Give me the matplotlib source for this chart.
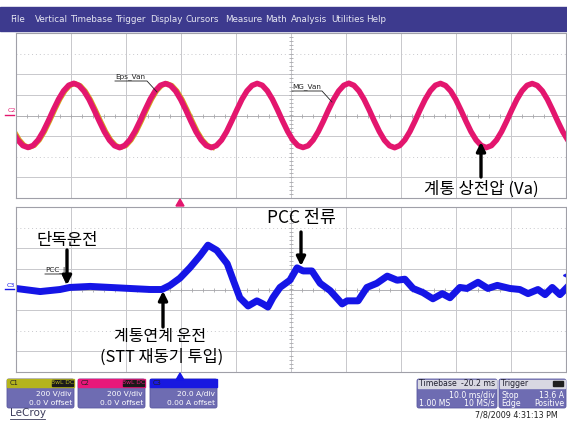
import matplotlib.pyplot as plt
import numpy as np
from matplotlib.patches import FancyBboxPatch, Rectangle, Polygon

W, H = 567, 421
KR = ['Noto Sans CJK KR', 'DejaVu Sans']

# C2 (MG_Van) phase voltage [V], one sample every DT_V ms from T0_V
DT_V = 16.667 / 18
T0_V = -0.6
mg_van = [
    -156, -238, -292,
    -310, -291, -237, -154, -52, 56, 157, 239, 293, 312, 291, 236, 155, 52, -55, -157, -239, -293,
    -312, -290, -236, -155, -53, 55, 158, 240, 292, 310, 290, 237, 154, 53, -56, -158, -237, -291,
    -311, -292, -239, -157, -54, 53, 156, 238, 291, 311, 293, 239, 157, 55, -53, -155, -238, -292,
    -310, -293, -238, -156, -55, 54, 155, 237, 292, 313, 292, 238, 156, 54, -54, -156, -240, -293,
    -312, -291, -237, -155, -53, 56, 157, 239, 293, 311, 290, 237, 155, 53, -55, -157, -238, -291,
    -311, -292, -238, -156, -54, 54, 156, 238, 292, 310, 291, 238, 156, 54, -54, -156, -238, -292,
]

# C1 (Eps_Van) lags slightly during the first cycles
T0_EPS = -0.35
eps_van = [
    -150, -234, -290,
    -309, -290, -236, -153, -51, 57, 158, 239, 292, 310, 290, 236, 154, 52, -55, -157, -238, -292,
    -310, -291, -237, -155, -53, 55, 157, 239, 292, 310, 291, 237, 155, 53, -55, -157, -238, -291,
    -310,
]

# C3 PCC current [A] vs time [ms]
pcc_t = [0, 4.4, 8.0, 9.8, 13.5, 17.1, 20.7, 24.4, 26.5, 28.0, 29.8, 31.6,
         33.5, 34.9, 36.5, 38.4, 39.5, 40.7, 42.2, 43.8, 44.9, 45.8, 46.7,
         48.0, 49.8, 51.1, 52.2, 53.8, 55.3, 57.1, 59.3, 60.2, 62.2, 63.8,
         65.6, 67.5, 69.3, 70.7, 72.2, 74.0, 75.8, 77.5, 78.9, 80.7, 82.0,
         84.0, 85.8, 87.5, 89.8, 91.6, 93.1, 94.9, 96.2, 97.5, 98.9, 100.0]
pcc_i = [1, -2, 0, 2, 3, 2, 1, 0, 0, 4, 11, 21,
         33, 43, 38, 25, 9, -8, -16, -11, -14, -17, -8,
         2, 9, 21, 18, 18, 6, -1, -14, -11, -11, 2,
         6, 13, 9, 10, 1, -3, -9, -4, -8, 2, 1,
         7, 1, 4, 1, 0, -4, 0, -5, 2, -5, 1]

menu_items = ['File', 'Vertical', 'Timebase', 'Trigger', 'Display', 'Cursors',
              'Measure', 'Math', 'Analysis', 'Utilities', 'Help']
menu_x = [10, 35, 70, 115, 150, 186, 225, 265, 291, 331, 366]

chan_names = ['C1', 'C2', 'C3']
chan_colors = ['#b4b41c', '#e8187a', '#1818e0']
chan_scale = ['200 V/div', '200 V/div', '20.0 A/div']
chan_offset = ['0.0 V offset', '0.0 V offset', '0.00 A offset']
chan_box_x = [7, 78, 150]

MAGENTA = '#e3166e'
BLUE = '#1515e6'
GRID = '#c8c8cc'

fig = plt.figure(figsize=(W / 100, H / 100), dpi=100)


def px_rect(x0, y0, x1, y1):
    return [x0 / W, 1 - y1 / H, (x1 - x0) / W, (y1 - y0) / H]


def scope_axes(rect, vdiv):
    ax = fig.add_axes(rect, zorder=1)
    ax.set_xlim(0, 100)
    ax.set_ylim(-4 * vdiv, 4 * vdiv)
    ax.set_xticks([])
    ax.set_yticks([])
    for s in ax.spines.values():
        s.set_color('#a0a0a8')
        s.set_linewidth(0.8)
    for x in range(10, 100, 10):
        ax.axvline(x, color=GRID, lw=0.7, zorder=0)
    for r in range(-3, 4):
        if r == 0:
            continue
        ls = (0, (1, 3)) if r in (3, -2) else '-'
        ax.axhline(r * vdiv, color=GRID, lw=0.7, ls=ls, zorder=0)
    ax.axhline(0, color='#b0b0b4', lw=0.7, zorder=0)
    ax.plot(np.arange(2, 100, 2), np.zeros(49), ls='none', marker='|',
            ms=3, mew=0.6, color='#a8a8ac', zorder=0)
    ax.plot(np.full(39, 50), np.arange(-3.8, 3.81, 0.2) * vdiv, ls='none',
            marker='_', ms=3, mew=0.6, color='#a8a8ac', zorder=0)
    return ax


# background, menu bar and status boxes
bg = fig.add_axes([0, 0, 1, 1], zorder=0)
bg.set_xlim(0, W)
bg.set_ylim(H, 0)
bg.axis('off')
bg.add_patch(Rectangle((0, 7), W, 24, color='#3d3a8e'))
for name, x in zip(menu_items, menu_x):
    bg.text(x, 19.5, name, color='#e6e6f2', fontsize=6.3, va='center')

top = scope_axes(px_rect(16, 33, 566, 198), 200)
bot = scope_axes(px_rect(16, 207, 566, 372), 20)

t_v = T0_V + DT_V * np.arange(len(mg_van))
t_e = T0_EPS + DT_V * np.arange(len(eps_van))
top.plot(t_e, eps_van, color='#d6a21c', lw=3.6, solid_joinstyle='round')
top.plot(t_v, mg_van, color=MAGENTA, lw=4.0, solid_joinstyle='round')
bot.plot(pcc_t, pcc_i, color=BLUE, lw=5.0, solid_joinstyle='round')
bot.plot([100], [14], ls='none', marker='<', ms=4, color=BLUE, clip_on=False)

for cx, name, col, sc, off in zip(chan_box_x, chan_names, chan_colors,
                                  chan_scale, chan_offset):
    bg.add_patch(FancyBboxPatch((cx, 379), 67, 29, boxstyle='round,pad=0,rounding_size=2',
                                fc='#6e6cb2', ec='#5a58a0', lw=0.6))
    bg.add_patch(Rectangle((cx, 379), 67, 8, color=col))
    bg.text(cx + 3, 383, name, fontsize=4.8, color='#202020', va='center')
    if name != 'C3':
        bg.add_patch(Rectangle((cx + 45, 380), 21, 6, color='#1a1a1a'))
        bg.text(cx + 55.5, 383, 'BwL DC', fontsize=4.3, color=col,
                ha='center', va='center')
    bg.text(cx + 65, 394, sc, fontsize=5.4, color='white', ha='right', va='center')
    bg.text(cx + 65, 403, off, fontsize=5.4, color='white', ha='right', va='center')

for x0, x1, head, rows in [
        (417, 497, ('Timebase', '-20.2 ms'),
         [('', '10.0 ms/div'), ('1.00 MS', '10 MS/s')]),
        (499, 566, ('Trigger', ''),
         [('Stop', '13.6 A'), ('Edge', 'Positive')])]:
    bg.add_patch(FancyBboxPatch((x0, 379), x1 - x0, 29,
                                boxstyle='round,pad=0,rounding_size=2',
                                fc='#6e6cb2', ec='#5a58a0', lw=0.6))
    bg.add_patch(Rectangle((x0 + 1, 380), x1 - x0 - 2, 8, color='#d8d8e2'))
    bg.text(x0 + 2, 384, head[0], fontsize=5.6, color='#202030', va='center')
    bg.text(x1 - 2, 384, head[1], fontsize=5.6, color='#202030', va='center', ha='right')
    for i, (left, right) in enumerate(rows):
        bg.text(x0 + 2, 395 + 8.5 * i, left, fontsize=5.6, color='white', va='center')
        bg.text(x1 - 2, 395 + 8.5 * i, right, fontsize=5.6, color='white',
                va='center', ha='right')
bg.add_patch(Rectangle((553, 381), 10, 5, color='#202020'))

bg.text(10, 413.5, 'LeCroy', fontsize=7.5, color='#3c3c5c', va='center')
bg.plot([10, 45], [419, 419], color='#3c3c5c', lw=0.6)
bg.text(558, 415, '7/8/2009 4:31:13 PM', fontsize=5.8, color='#202020',
        ha='right', va='center')

# annotation layer
ann = fig.add_axes([0, 0, 1, 1], zorder=5)
ann.set_xlim(0, W)
ann.set_ylim(H, 0)
ann.axis('off')
ann.patch.set_alpha(0)

ann.text(8, 111, 'C2', fontsize=4.5, color=MAGENTA, va='center')
ann.plot([5, 14], [115, 115], color=MAGENTA, lw=1.0)
ann.text(7, 285.5, 'C3', fontsize=4.5, color=BLUE, va='center')
ann.plot([5, 14], [289, 289], color=BLUE, lw=1.0)

ann.add_patch(Polygon([[176, 206], [184, 206], [180, 199]], color=MAGENTA))
ann.add_patch(Polygon([[176, 380], [184, 380], [180, 373]], color=BLUE))

for label, x, y, x2, y2 in [('Eps_Van', 115, 77, 157, 92),
                            ('MG_Van', 292, 87, 332, 102),
                            ('PCC_I', 45, 270, 66, 283)]:
    ann.text(x, y, label, fontsize=5.2, color='#202020', va='center')
    ann.plot([x, x2 - 10 if label != 'PCC_I' else x2 - 4, x2],
             [y + 4, y + 4, y2], color='#202020', lw=0.6)

arrow = dict(arrowstyle='-|>', lw=2.4, color='black', mutation_scale=13,
             shrinkA=0, shrinkB=0)
ann.annotate('', xy=(481, 142), xytext=(481, 177), arrowprops=arrow)
ann.text(481, 189, '계통 상전압 (Va)', fontsize=12, family=KR, ha='center', va='center')

ann.annotate('', xy=(67, 285), xytext=(67, 250), arrowprops=arrow)
ann.text(67, 240, '단독운전', fontsize=12, family=KR, ha='center', va='center')

ann.annotate('', xy=(163, 291), xytext=(163, 327), arrowprops=arrow)
ann.text(160, 337, '계통연계 운전', fontsize=11.5, family=KR, ha='center', va='center')
ann.text(162, 357, '(STT 재동기 투입)', fontsize=11.8, family=KR, ha='center', va='center')

ann.annotate('', xy=(301, 266), xytext=(301, 232), arrowprops=arrow)
ann.text(301, 218, 'PCC 전류', fontsize=12.5, family=KR, ha='center', va='center')

fig.savefig('out.png', dpi=100)
plt.close(fig)
